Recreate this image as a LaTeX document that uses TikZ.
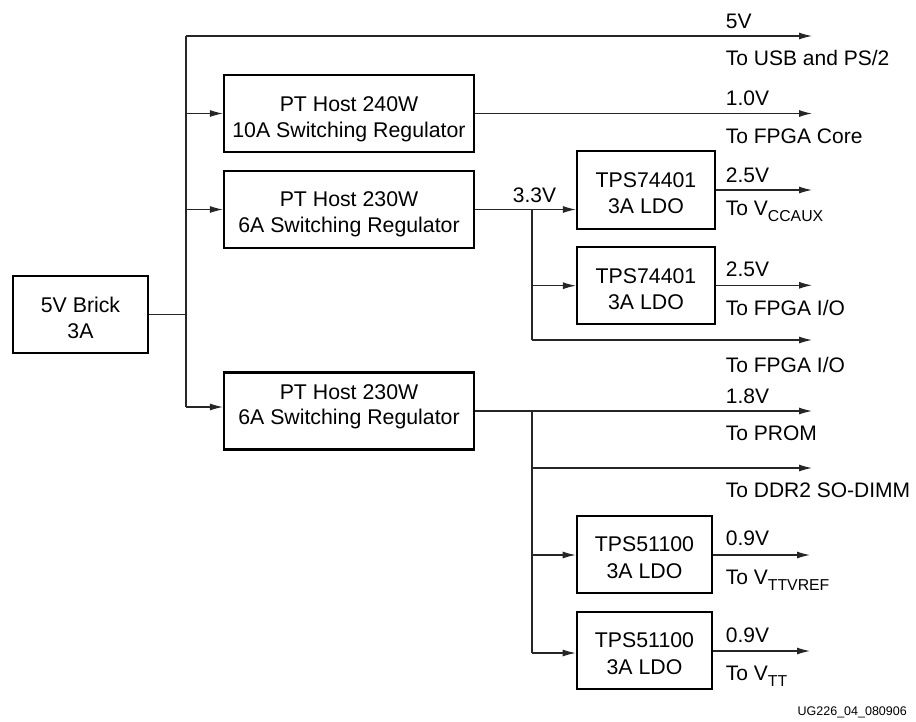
\documentclass[tikz,border=0pt]{standalone}
\usepackage{fontspec}
\setmainfont{Liberation Sans}
\usetikzlibrary{arrows.meta}
\newcommand\bt[3]{\raisebox{#1}[0pt][0pt]{\begin{tabular}[t]{@{}c@{}}#2\\#3\end{tabular}}}
\newcommand\sbs[1]{\raisebox{-6pt}{\fontsize{15.8}{16}\selectfont #1}}
\begin{document}
\begin{tikzpicture}[x=1pt,y=-1pt,
  blk/.style={draw=black, line width=2.2pt, inner sep=0pt, minimum height=77pt},
  ptbox/.style={blk, minimum width=250pt, font=\fontsize{21.3}{25.5}\selectfont},
  ldobox/.style={blk, minimum width=136pt, font=\fontsize{21.3}{26.5}\selectfont},
  ln/.style={line width=1.1pt, draw=black!85},
  arr/.style={ln, -{Latex[length=13pt,width=7pt]}},
  lbl/.style={anchor=base west, inner sep=0pt, font=\fontsize{21}{24}\selectfont},
]
\useasboundingbox (0,0) rectangle (916,721);

% boxes
\node[blk, minimum width=135pt, font=\fontsize{21.3}{25.6}\selectfont] (brick) at (80.5,314.5) {\bt{1.8pt}{5V Brick}{3A}};
\node[ptbox] (pt1) at (349,113.5) {\bt{1.8pt}{PT Host 240W}{10A Switching Regulator}};
\node[ptbox] (pt2) at (349,209.5) {\bt{2.8pt}{PT Host 230W}{6A Switching Regulator}};
\node[ptbox] (pt3) at (349,411) {\bt{11.7pt}{PT Host 230W}{6A Switching Regulator}};
\node[ldobox, minimum width=138pt, minimum height=78pt] (ldoA) at (646,190) {\bt{2.7pt}{TPS74401}{3A LDO}};
\node[ldobox, minimum width=138pt] (ldoB) at (646,285.3) {\bt{2pt}{TPS74401}{3A LDO}};
\node[ldobox, minimum width=135.5pt] (ldoC) at (644.5,554.5) {\bt{2.8pt}{TPS51100}{3A LDO}};
\node[ldobox, minimum width=135.5pt] (ldoD) at (644.5,650.8) {\bt{3.1pt}{TPS51100}{3A LDO}};

% junction / end coordinates
\coordinate (tp) at (186,36);
\coordinate (t1) at (186,113.5);
\coordinate (t2) at (186,209.5);
\coordinate (t3) at (186,407);
\coordinate (o5) at (812,36);
\coordinate (o1) at (812,113.5);
\coordinate (oA) at (812,190);
\coordinate (oB) at (812,285.3);
\coordinate (j1) at (532,209.5);
\coordinate (j1b) at (532,285.7);
\coordinate (j1c) at (532,340);
\coordinate (o33) at (812,340);
\coordinate (o18) at (812,411);
\coordinate (j2) at (532,411);
\coordinate (j2a) at (532,468);
\coordinate (oDDR) at (812,468);
\coordinate (j2b) at (532,555);
\coordinate (j2c) at (532,653);
\coordinate (oC) at (810,555);
\coordinate (oD) at (810,651);

% main trunk
\draw[ln] (brick.east) -- (brick.east -| tp);
\draw[ln] (tp) -- (t3);
\draw[arr] (tp) -- (o5);
\draw[arr] (t1) -- (pt1.west);
\draw[arr] (t2) -- (pt2.west);
\draw[arr] (t3) -- (t3 -| pt3.west);

% regulator outputs
\draw[arr] (pt1.east) -- (o1);
\draw[arr] (pt2.east) -- (pt2.east -| ldoA.west);
\draw[ln] (j1) -- (j1c);
\draw[arr] (j1b) -- (j1b -| ldoB.west);
\draw[arr] (j1c) -- (o33);
\draw[arr] (ldoA.east |- oA) -- (oA);
\draw[arr] (ldoB.east) -- (oB);

\draw[arr] (pt3.east) -- (o18);
\draw[ln] (j2) -- (j2c);
\draw[arr] (j2a) -- (oDDR);
\draw[arr] (j2b) -- (j2b -| ldoC.west);
\draw[arr] (j2c) -- (j2c -| ldoD.west);
\draw[arr] (ldoC.east |- oC) -- (oC);
\draw[arr] (ldoD.east |- oD) -- (oD);

% labels
\node[anchor=base, inner sep=0pt, font=\fontsize{21}{24}\selectfont] (l33) at (534.5,202) {3.3V};
\node[lbl] (l5v) at (725.7,28) {5V};
\node[lbl] (lusb) at (725.7,65) {To USB and PS/2};
\node[lbl] (l10) at (725.7,105) {1.0V};
\node[lbl] (lcore) at (725.7,143) {To FPGA Core};
\node[lbl] (l25a) at (725.7,182) {2.5V};
\node[lbl] (lccaux) at (725.7,215) {To V\sbs{CCAUX}};
\node[lbl] (l25b) at (725.7,276) {2.5V};
\node[lbl] (lio1) at (725.7,315) {To FPGA I/O};
\node[lbl] (lio2) at (725.7,372) {To FPGA I/O};
\node[lbl] (l18) at (725.7,403) {1.8V};
\node[lbl] (lprom) at (725.7,440) {To PROM};
\node[lbl] (lddr) at (725.7,497) {To DDR2 SO-DIMM};
\node[lbl] (l09a) at (725.7,545) {0.9V};
\node[lbl] (lvref) at (725.7,584) {To V\sbs{TTVREF}};
\node[lbl] (l09b) at (725.7,642) {0.9V};
\node[lbl] (lvtt) at (725.7,680) {To V\sbs{TT}};
\node[anchor=base east, inner sep=0pt, font=\fontsize{12.5}{14}\selectfont] (ug) at (907,715) {UG226\_04\_080906};
\end{tikzpicture}
\end{document}
